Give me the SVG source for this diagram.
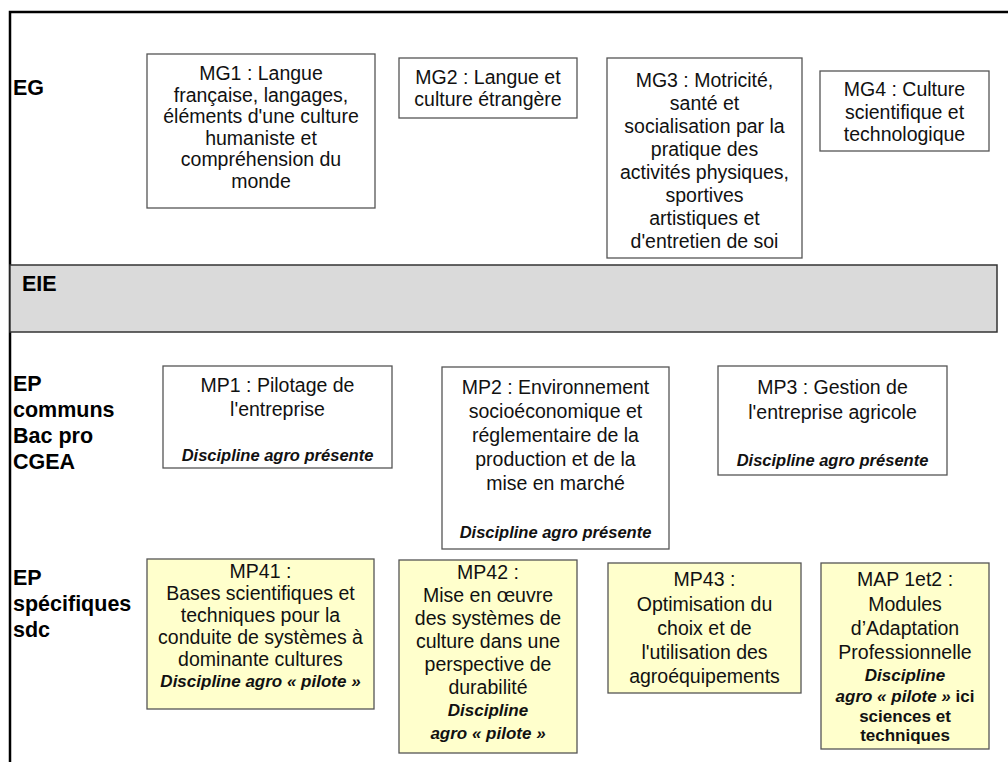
<svg xmlns="http://www.w3.org/2000/svg" width="1008" height="762" viewBox="0 0 1008 762">
<style>
  .bg { fill: #ffffff; }
  .frame { fill: none; stroke: #000; stroke-width: 2.5; }
  .box { fill: #ffffff; stroke: #555; stroke-width: 1.3; }
  .ybox { fill: #ffffcc; stroke: #555; stroke-width: 1.3; }
  .bar { fill: #dadada; stroke: #333; stroke-width: 1.5; }
  .t { font-family: "Liberation Sans", Arial, sans-serif; font-size: 19.5px; fill: #111; text-anchor: middle; }
  .d { font-family: "Liberation Sans", Arial, sans-serif; font-size: 16.5px; font-weight: bold; font-style: italic; fill: #111; text-anchor: middle; }
  .dy { font-family: "Liberation Sans", Arial, sans-serif; font-size: 17px; font-weight: bold; fill: #111; text-anchor: middle; }
  .lab { font-family: "Liberation Sans", Arial, sans-serif; font-size: 21.5px; font-weight: bold; fill: #000; }
</style>
<rect class="bg" x="0" y="0" width="1008" height="762"/>
<g id="connectors"></g>
<g id="frame"><path class="frame" d="M10,762 V12 H1008"/></g>

<g id="label-EG"><text class="lab" x="13" y="95">EG</text></g>

<g id="MG1">
  <rect class="box" x="147" y="54" width="228" height="154"/>
  <text class="t" x="261" y="80">MG1 : Langue</text>
  <text class="t" x="261" y="101.6">française, langages,</text>
  <text class="t" x="261" y="123.2">éléments d'une culture</text>
  <text class="t" x="261" y="144.8">humaniste et</text>
  <text class="t" x="261" y="166.4">compréhension du</text>
  <text class="t" x="261" y="188">monde</text>
</g>

<g id="MG2">
  <rect class="box" x="399" y="58" width="178" height="60"/>
  <text class="t" x="488" y="83.5">MG2 : Langue et</text>
  <text class="t" x="488" y="106">culture étrangère</text>
</g>

<g id="MG3">
  <rect class="box" x="607" y="58" width="195" height="200"/>
  <text class="t" x="704.5" y="86.5">MG3 : Motricité,</text>
  <text class="t" x="704.5" y="109.6">santé et</text>
  <text class="t" x="704.5" y="132.7">socialisation par la</text>
  <text class="t" x="704.5" y="155.8">pratique des</text>
  <text class="t" x="704.5" y="178.9">activités physiques,</text>
  <text class="t" x="704.5" y="202">sportives</text>
  <text class="t" x="704.5" y="225.1">artistiques et</text>
  <text class="t" x="704.5" y="248.2">d'entretien de soi</text>
</g>

<g id="MG4">
  <rect class="box" x="820" y="71" width="169" height="80"/>
  <text class="t" x="904.5" y="96">MG4 : Culture</text>
  <text class="t" x="904.5" y="118.5">scientifique et</text>
  <text class="t" x="904.5" y="141">technologique</text>
</g>

<g id="EIE">
  <rect class="bar" x="10" y="265" width="987" height="67"/>
  <text class="lab" x="22" y="291">EIE</text>
</g>

<g id="label-EP-communs">
  <text class="lab" x="13" y="391">EP</text>
  <text class="lab" x="13" y="417">communs</text>
  <text class="lab" x="13" y="443">Bac pro</text>
  <text class="lab" x="13" y="469">CGEA</text>
</g>

<g id="MP1">
  <rect class="box" x="163" y="366" width="229" height="102"/>
  <text class="t" x="277.5" y="391.5">MP1 : Pilotage de</text>
  <text class="t" x="277.5" y="416">l'entreprise</text>
  <text class="d" x="277.5" y="460.5">Discipline agro présente</text>
</g>

<g id="MP2">
  <rect class="box" x="442" y="367" width="227" height="182"/>
  <text class="t" x="555.5" y="394">MP2 : Environnement</text>
  <text class="t" x="555.5" y="417.5">socioéconomique et</text>
  <text class="t" x="555.5" y="441.5">réglementaire de la</text>
  <text class="t" x="555.5" y="465.5">production et de la</text>
  <text class="t" x="555.5" y="489.5">mise en marché</text>
  <text class="d" x="555.5" y="537.5">Discipline agro présente</text>
</g>

<g id="MP3">
  <rect class="box" x="718" y="366" width="229" height="109"/>
  <text class="t" x="832.5" y="393.5">MP3 : Gestion de</text>
  <text class="t" x="832.5" y="419">l'entreprise agricole</text>
  <text class="d" x="832.5" y="465.5">Discipline agro présente</text>
</g>

<g id="label-EP-specifiques">
  <text class="lab" x="13" y="585">EP</text>
  <text class="lab" x="13" y="611">spécifiques</text>
  <text class="lab" x="13" y="637">sdc</text>
</g>

<g id="MP41">
  <rect class="ybox" x="147" y="559" width="227" height="150"/>
  <text class="t" x="260.5" y="578">MP41 :</text>
  <text class="t" x="260.5" y="600">Bases scientifiques et</text>
  <text class="t" x="260.5" y="621.5">techniques pour la</text>
  <text class="t" x="260.5" y="643.5">conduite de systèmes à</text>
  <text class="t" x="260.5" y="665.5">dominante cultures</text>
  <text class="d" x="260.5" y="686.5" style="font-size:17px">Discipline agro « pilote »</text>
</g>

<g id="MP42">
  <rect class="ybox" x="399" y="560" width="178" height="193"/>
  <text class="t" x="488" y="578.5">MP42 :</text>
  <text class="t" x="488" y="601.5">Mise en œuvre</text>
  <text class="t" x="488" y="624.5">des systèmes de</text>
  <text class="t" x="488" y="647.5">culture dans une</text>
  <text class="t" x="488" y="670.5">perspective de</text>
  <text class="t" x="488" y="693.5">durabilité</text>
  <text class="d" x="488" y="715.5" style="font-size:17px">Discipline</text>
  <text class="d" x="488" y="738.5" style="font-size:17px">agro « pilote »</text>
</g>

<g id="MP43">
  <rect class="ybox" x="608" y="563" width="193" height="130"/>
  <text class="t" x="704.5" y="586">MP43 :</text>
  <text class="t" x="704.5" y="610.5">Optimisation du</text>
  <text class="t" x="704.5" y="634.5">choix et de</text>
  <text class="t" x="704.5" y="659">l'utilisation des</text>
  <text class="t" x="704.5" y="683">agroéquipements</text>
</g>

<g id="MAP">
  <rect class="ybox" x="821" y="563" width="168" height="186"/>
  <text class="t" x="905" y="586">MAP 1et2 :</text>
  <text class="t" x="905" y="610.5">Modules</text>
  <text class="t" x="905" y="634.5">d’Adaptation</text>
  <text class="t" x="905" y="659">Professionnelle</text>
  <text class="d" x="905" y="681" style="font-size:17px">Discipline</text>
  <text class="dy" x="905" y="702"><tspan font-style="italic">agro « pilote »</tspan> ici</text>
  <text class="dy" x="905" y="721.5">sciences et</text>
  <text class="dy" x="905" y="741">techniques</text>
</g>
</svg>
